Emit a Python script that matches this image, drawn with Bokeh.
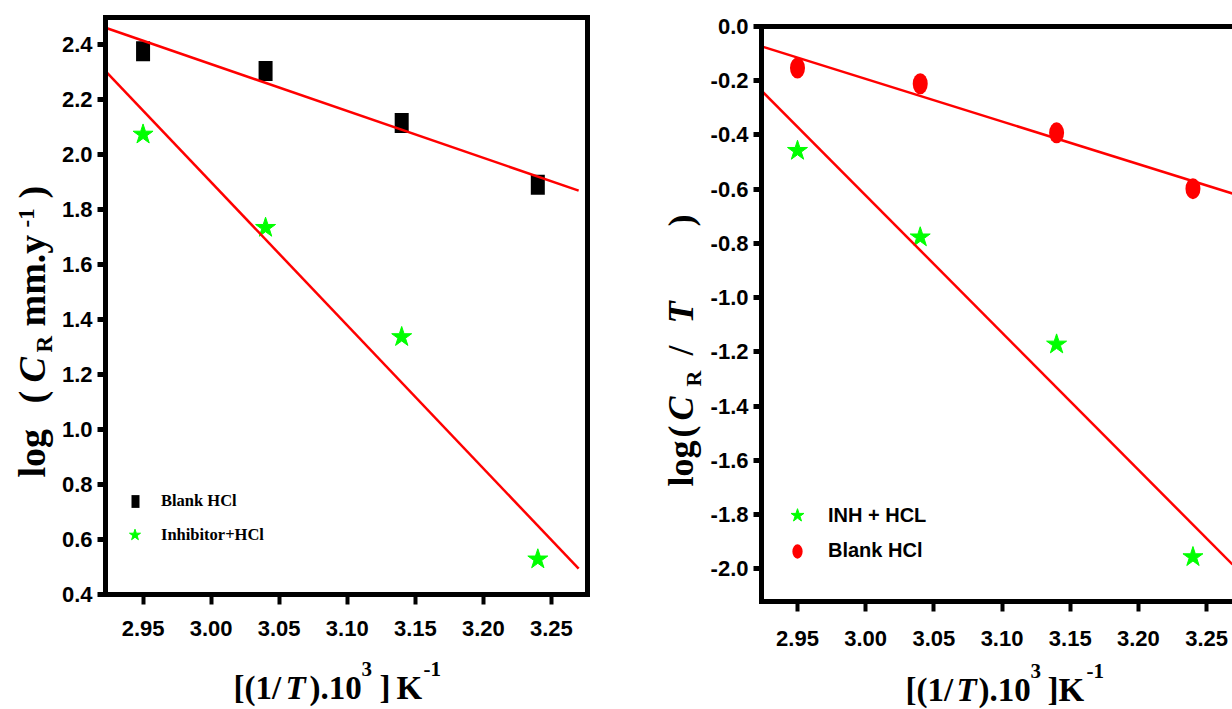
import math
import numpy as np
from bokeh.plotting import figure
from bokeh.models import (Range1d, FixedTicker, PrintfTickFormatter, LinearAxis,
                          Label, Legend, LegendItem)
from bokeh.layouts import row
from bokeh.embed import file_html
from bokeh.resources import INLINE

# ---------------- data ----------------
inv_T = [2.95, 3.04, 3.14, 3.24]
logCR_blank = [2.374, 2.303, 2.114, 1.889]
logCR_inh = [2.072, 1.733, 1.336, 0.528]
logCRT_blank = [-0.153, -0.211, -0.392, -0.598]
logCRT_inh = [-0.458, -0.777, -1.172, -1.956]
x_ticks = [2.95, 3.00, 3.05, 3.10, 3.15, 3.20, 3.25]
y_ticks_left = [0.4, 0.6, 0.8, 1.0, 1.2, 1.4, 1.6, 1.8, 2.0, 2.2, 2.4]
y_ticks_right = [0.0, -0.2, -0.4, -0.6, -0.8, -1.0, -1.2, -1.4, -1.6, -1.8, -2.0]
left_legend = ["Blank HCl", "Inhibitor+HCl"]
right_legend = ["INH + HCL", "Blank HCl"]

SANS = "Liberation Sans"
SERIF = "Liberation Serif"
RED = "#ff0000"
GREEN = "#00ff00"
H = 709
UP = math.pi / 2

# panel geometry (page pixels) of each plot box and its data ranges
G1 = dict(ox=0, w=612, x0=105, x1=587, y0=17, y1=594, xr=(2.9224, 3.2765), yr=(0.4, 2.497))
G2 = dict(ox=612, w=620, x0=761, x1=1232, y0=26, y1=601, xr=(2.9236, 3.269), yr=(-2.12, 0.0))


def scales(g):
    kx = (g["x1"] - g["x0"]) / (g["xr"][1] - g["xr"][0])
    ky = (g["y1"] - g["y0"]) / (g["yr"][1] - g["yr"][0])
    return kx, ky


def make_fig(g):
    kx, ky = scales(g)
    fx = (g["xr"][0] - (g["x0"] - g["ox"]) / kx, g["xr"][1] + (g["ox"] + g["w"] - g["x1"]) / kx)
    fy = (g["yr"][0] - (H - g["y1"]) / ky, g["yr"][1] + g["y0"] / ky)
    p = figure(width=g["w"], height=H, x_range=Range1d(*fx), y_range=Range1d(*fy),
               output_backend="svg", toolbar_location=None, min_border=0,
               min_border_left=0, min_border_right=0, min_border_top=0,
               min_border_bottom=0)
    try:
        p.frame_align = False
    except Exception:
        pass
    p.grid.visible = False
    p.outline_line_color = None
    p.background_fill_color = "white"
    p.border_fill_color = "white"
    return p


def style_axis(ax, tick_w, tick_out, standoff, size="22px"):
    ax.major_tick_line_width = tick_w
    ax.major_tick_line_color = "black"
    ax.major_tick_out = tick_out
    ax.major_tick_in = 0
    ax.minor_tick_line_color = None
    ax.major_label_text_font = SANS
    ax.major_label_text_font_size = size
    ax.major_label_text_font_style = "bold"
    ax.major_label_text_color = "black"
    ax.major_label_standoff = standoff
    ax.axis_line_width = 5
    ax.axis_line_color = "black"
    ax.axis_line_cap = "square"


def bare_axis(loc, bounds):
    return LinearAxis(ticker=FixedTicker(ticks=[], minor_ticks=[]), fixed_location=loc,
                      bounds=bounds, axis_line_width=5, axis_line_color="black",
                      axis_line_cap="square", major_tick_line_color=None,
                      minor_tick_line_color=None, major_label_text_font_size="0px")


def setup_axes(p, g, yticks, right_side, xstand):
    (xs, xe), (ys, ye) = g["xr"], g["yr"]
    xa, ya = p.xaxis[0], p.yaxis[0]
    xa.ticker = FixedTicker(ticks=x_ticks, minor_ticks=[])
    ya.ticker = FixedTicker(ticks=yticks, minor_ticks=[])
    xa.formatter = PrintfTickFormatter(format="%.2f")
    ya.formatter = PrintfTickFormatter(format="%.1f")
    xa.fixed_location = ys
    xa.bounds = (xs, xe)
    ya.fixed_location = xs
    ya.bounds = (ys, ye)
    style_axis(xa, 4, 10, xstand)
    style_axis(ya, 5, 8, 5)
    p.add_layout(bare_axis(ye, (xs, xe)), "above")
    if right_side:
        p.add_layout(bare_axis(xe, (ys, ye)), "right")


def add_text(p, g, text, px, py, size, italic=False, angle=0.0, font=SERIF):
    # (px, py) is the start of the text baseline in page pixels
    kx, ky = scales(g)
    if angle == 0.0:
        py = py - 0.33 * size
    else:
        px = px - 0.33 * size
    x = g["xr"][0] + (px - g["x0"]) / kx
    y = g["yr"][1] - (py - g["y0"]) / ky
    p.add_layout(Label(x=x, y=y, text=text, angle=angle, text_font=font,
                       text_font_size=f"{size}px",
                       text_font_style="bold italic" if italic else "bold",
                       text_align="left", text_baseline="middle",
                       text_color="black"))


def one_legend(p, g, label, rend, cx, cy, gw, gh, text_x, font, size):
    vx = int(round(cx - gw / 2 - g["ox"]))
    vy = int(round(H - (cy + gh / 2)))
    standoff = int(round(text_x - (g["ox"] + vx + gw)))
    lg = Legend(items=[LegendItem(label=label, renderers=[rend], index=0)],
                location=(vx, vy), glyph_width=gw, glyph_height=gh,
                label_height=gh, label_standoff=standoff, padding=0, margin=0,
                spacing=0, border_line_color=None, background_fill_alpha=0,
                label_text_font=font, label_text_font_size=size,
                label_text_font_style="bold", label_text_color="black")
    p.add_layout(lg)


# ---------------- left panel ----------------
p1 = make_fig(G1)
setup_axes(p1, G1, y_ticks_left, True, 16)

r_sq = p1.rect(x=inv_T, y=logCR_blank, width=14, height=20, width_units="screen",
               height_units="screen", fill_color="black", line_color=None)
r_st1 = p1.scatter(x=inv_T, y=logCR_inh, marker="star", size=21,
                   fill_color=GREEN, line_color=GREEN, line_width=1)
for ys in (logCR_blank, logCR_inh):
    k, b = np.polyfit(inv_T, ys, 1)
    xs = [G1["xr"][0], 3.27]
    p1.line(xs, [k * v + b for v in xs], line_color=RED, line_width=2.5)

one_legend(p1, G1, left_legend[0], r_sq, 135, 503, 10, 16, 161, SERIF, "16.5px")
one_legend(p1, G1, left_legend[1], r_st1, 135, 534, 29, 29, 161, SERIF, "16.5px")

B = 698
for t, px, dy, sz, it in [("[(1/", 233, 0, 33, False), ("T", 285, 0, 33, True),
                          (")", 309, 0, 33, False), (".10", 320, 0, 33, False),
                          ("3", 361, -23, 21, False), ("]", 379, 0, 33, False),
                          ("K", 396, 0, 33, False), ("-1", 423, -23, 21, False)]:
    add_text(p1, G1, t, px, B + dy, sz, it)

BX = 44
for t, py, dx, sz, it in [("log", 477, 0, 38, False), ("(", 403, 0, 38, False),
                          ("C", 382, 0, 38, True), ("R", 352, 8, 23, False),
                          ("mm.y", 326, 0, 38, False), ("-1", 227, -10, 23, False),
                          (")", 198, 0, 38, False)]:
    add_text(p1, G1, t, BX + dx, py, sz, it, angle=UP)

# ---------------- right panel ----------------
p2 = make_fig(G2)
setup_axes(p2, G2, y_ticks_right, False, 19)

r_el = p2.ellipse(x=inv_T, y=logCRT_blank, width=15, height=21, width_units="screen",
                  height_units="screen", fill_color=RED, line_color=None)
r_st2 = p2.scatter(x=inv_T, y=logCRT_inh, marker="star", size=21,
                   fill_color=GREEN, line_color=GREEN, line_width=1)
for ys in (logCRT_blank, logCRT_inh):
    k, b = np.polyfit(inv_T, ys, 1)
    xs = list(G2["xr"])
    p2.line(xs, [k * v + b for v in xs], line_color=RED, line_width=2.5)

one_legend(p2, G2, right_legend[0], r_st2, 797, 515, 34, 34, 828, SANS, "20px")
one_legend(p2, G2, right_legend[1], r_el, 797, 553, 18, 18, 828, SANS, "20px")

B2 = 700
for t, px, dy, sz, it in [("[(1/", 905, 0, 33, False), ("T", 956, 0, 33, True),
                          (")", 978, 0, 33, False), (".10", 989, 0, 33, False),
                          ("3", 1030, -23, 21, False), ("]", 1047, 0, 33, False),
                          ("K", 1058, 0, 33, False), ("-1", 1086, -23, 21, False)]:
    add_text(p2, G2, t, px, B2 + dy, sz, it)

BX2 = 692
for t, py, dx, sz, it in [("log", 486, 0, 36, False), ("(", 437, 0, 36, False),
                          ("C", 420, 0, 36, True), ("R", 386, 8, 22, False),
                          ("/", 355, 0, 36, False), ("T", 323, 0, 36, True),
                          (")", 226, 0, 36, False)]:
    add_text(p2, G2, t, BX2 + dx, py, sz, it, angle=UP)

layout = row(p1, p2)
open("out.html", "w").write(file_html(layout, INLINE))
